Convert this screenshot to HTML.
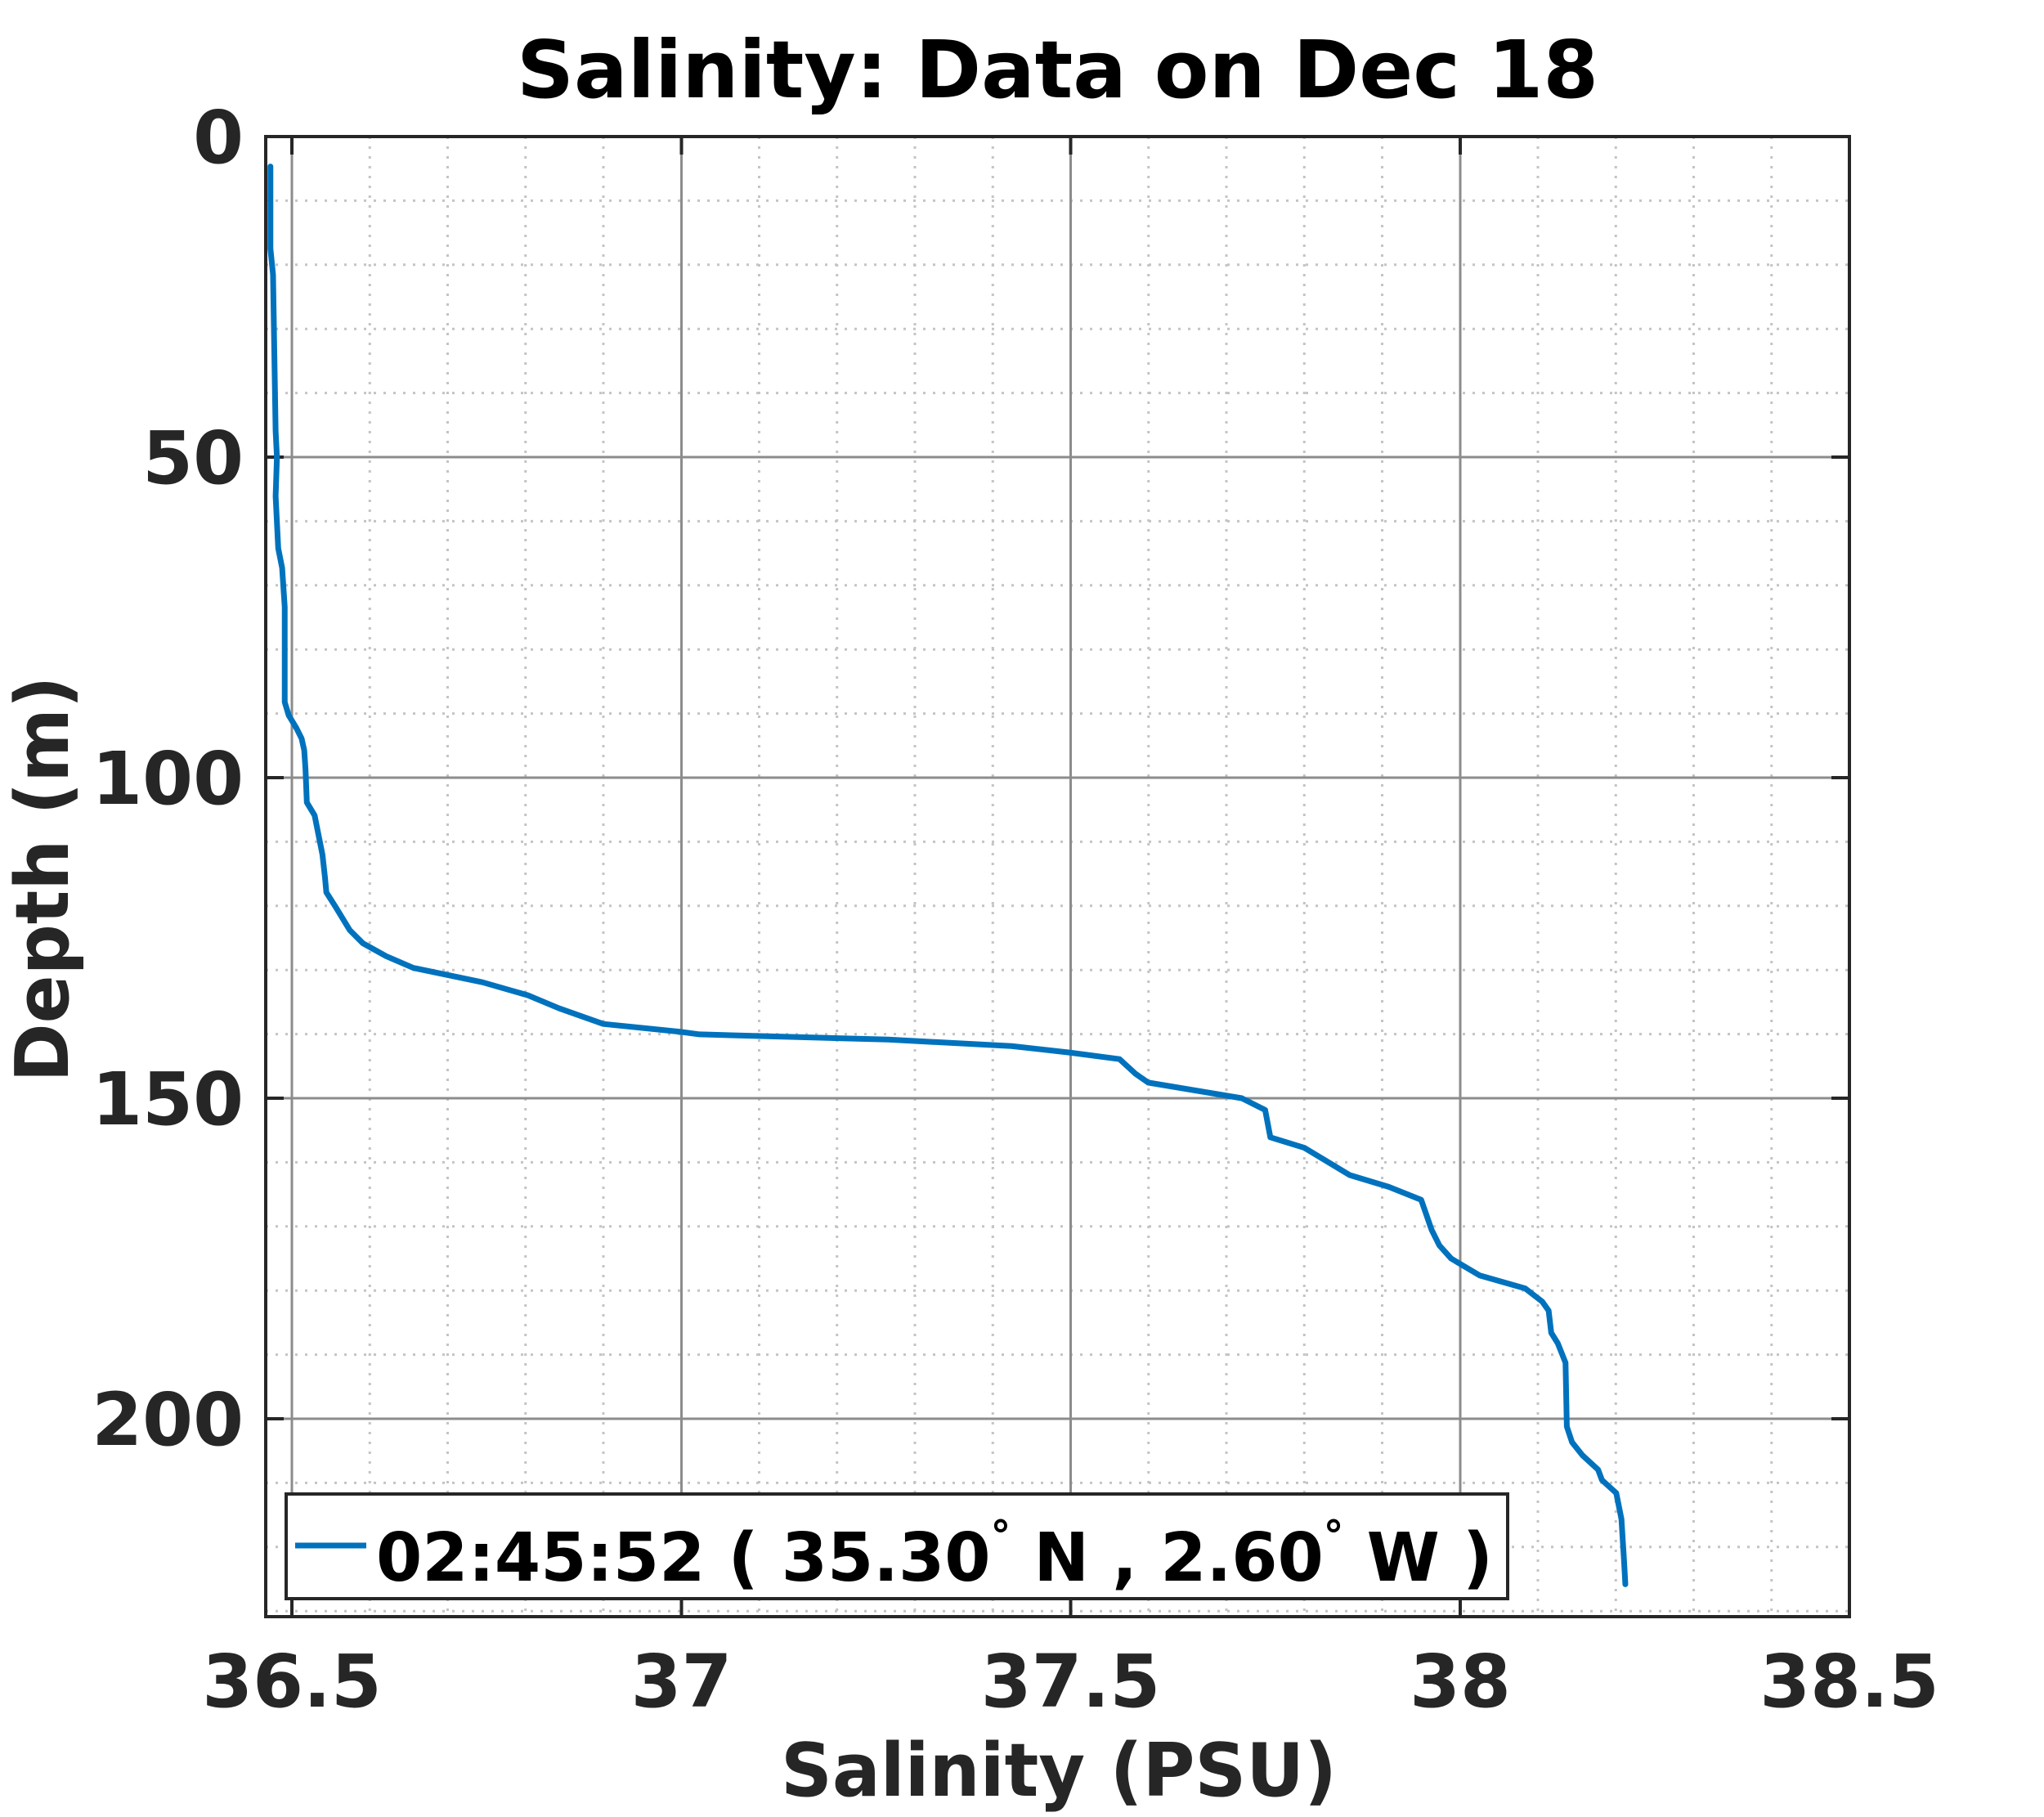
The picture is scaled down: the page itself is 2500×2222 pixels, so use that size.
<!DOCTYPE html>
<html><head><meta charset="utf-8"><style>
html,body{margin:0;padding:0;background:#fff;}
svg{display:block;}
text{font-family:"DejaVu Sans","Liberation Sans",sans-serif;font-weight:bold;}
</style></head><body>
<svg width="2500" height="2222" viewBox="0 0 2500 2222" xmlns="http://www.w3.org/2000/svg">
<rect width="2500" height="2222" fill="#fff"/>
<g stroke="#c4c4c4" stroke-width="3" stroke-dasharray="3,9">
<line x1="452.25" y1="167" x2="452.25" y2="1977"/><line x1="547.5" y1="167" x2="547.5" y2="1977"/><line x1="642.75" y1="167" x2="642.75" y2="1977"/><line x1="738" y1="167" x2="738" y2="1977"/>
<line x1="928.5" y1="167" x2="928.5" y2="1977"/><line x1="1023.75" y1="167" x2="1023.75" y2="1977"/><line x1="1119" y1="167" x2="1119" y2="1977"/><line x1="1214.25" y1="167" x2="1214.25" y2="1977"/>
<line x1="1404.75" y1="167" x2="1404.75" y2="1977"/><line x1="1500" y1="167" x2="1500" y2="1977"/><line x1="1595.25" y1="167" x2="1595.25" y2="1977"/><line x1="1690.5" y1="167" x2="1690.5" y2="1977"/>
<line x1="1881" y1="167" x2="1881" y2="1977"/><line x1="1976.25" y1="167" x2="1976.25" y2="1977"/><line x1="2071.5" y1="167" x2="2071.5" y2="1977"/><line x1="2166.75" y1="167" x2="2166.75" y2="1977"/>
</g>
<g stroke="#c4c4c4" stroke-width="3" stroke-dasharray="3,9">
<line x1="325" y1="245.4" x2="2262" y2="245.4"/><line x1="325" y1="323.8" x2="2262" y2="323.8"/><line x1="325" y1="402.2" x2="2262" y2="402.2"/><line x1="325" y1="480.6" x2="2262" y2="480.6"/>
<line x1="325" y1="637.4" x2="2262" y2="637.4"/><line x1="325" y1="715.8" x2="2262" y2="715.8"/><line x1="325" y1="794.2" x2="2262" y2="794.2"/><line x1="325" y1="872.6" x2="2262" y2="872.6"/>
<line x1="325" y1="1029.4" x2="2262" y2="1029.4"/><line x1="325" y1="1107.8" x2="2262" y2="1107.8"/><line x1="325" y1="1186.2" x2="2262" y2="1186.2"/><line x1="325" y1="1264.6" x2="2262" y2="1264.6"/>
<line x1="325" y1="1421.4" x2="2262" y2="1421.4"/><line x1="325" y1="1499.8" x2="2262" y2="1499.8"/><line x1="325" y1="1578.2" x2="2262" y2="1578.2"/><line x1="325" y1="1656.6" x2="2262" y2="1656.6"/>
<line x1="325" y1="1813.4" x2="2262" y2="1813.4"/><line x1="325" y1="1891.8" x2="2262" y2="1891.8"/><line x1="325" y1="1970.2" x2="2262" y2="1970.2"/>
</g>
<g stroke="#8c8c8c" stroke-width="3">
<line x1="357" y1="167" x2="357" y2="1977"/><line x1="833.5" y1="167" x2="833.5" y2="1977"/><line x1="1309.5" y1="167" x2="1309.5" y2="1977"/><line x1="1786" y1="167" x2="1786" y2="1977"/>
<line x1="325" y1="559" x2="2262" y2="559"/><line x1="325" y1="951" x2="2262" y2="951"/><line x1="325" y1="1343" x2="2262" y2="1343"/><line x1="325" y1="1735" x2="2262" y2="1735"/>
</g>
<g stroke="#262626" stroke-width="4">
<line x1="357" y1="167" x2="357" y2="189"/><line x1="833.5" y1="167" x2="833.5" y2="189"/><line x1="1309.5" y1="167" x2="1309.5" y2="189"/><line x1="1786" y1="167" x2="1786" y2="189"/>
<line x1="357" y1="1977" x2="357" y2="1955"/><line x1="833.5" y1="1977" x2="833.5" y2="1955"/><line x1="1309.5" y1="1977" x2="1309.5" y2="1955"/><line x1="1786" y1="1977" x2="1786" y2="1955"/>
<line x1="325" y1="559" x2="347" y2="559"/><line x1="325" y1="951" x2="347" y2="951"/><line x1="325" y1="1343" x2="347" y2="1343"/><line x1="325" y1="1735" x2="347" y2="1735"/>
<line x1="2262" y1="559" x2="2240" y2="559"/><line x1="2262" y1="951" x2="2240" y2="951"/><line x1="2262" y1="1343" x2="2240" y2="1343"/><line x1="2262" y1="1735" x2="2240" y2="1735"/>
</g>
<polyline fill="none" stroke="#0072BD" stroke-width="7" stroke-linejoin="round" stroke-linecap="round"
transform="matrix(1.5904 0 0 1.5935 4.72 1.28)" vector-effect="non-scaling-stroke"
points="205,127 205,190 207,210 208,270 209,330 210,350 209,380 211,420 214,435 216,465 216,538 219,548 225,558 229,566 231,575 232,590 233,615 239,625 241,635 245,655 247,673 248,684 255,695 266,713 276,723 294,733 315,742 368,753 403,763 427,773 461,785 520,791 535,793 680,797 775,802 820,807 858,812 870,823 880,830 952,842 970,851 974,872 1000,880 1035,901 1065,910 1090,920 1098,943 1104,955 1113,965 1135,978 1170,988 1183,998 1188,1005 1190,1022 1195,1030 1201,1045 1202,1094 1206,1106 1214,1116 1226,1127 1229,1135 1240,1145 1244,1165 1246,1197 1247,1215"/>
<rect x="325" y="167" width="1937" height="1810" fill="none" stroke="#262626" stroke-width="4"/>
<rect x="350" y="1827" width="1494" height="128" fill="#fff" stroke="#262626" stroke-width="4"/>
<line x1="361" y1="1890" x2="448" y2="1890" stroke="#0072BD" stroke-width="7"/>
<text x="460" y="1933" font-size="82" fill="#000" textLength="1366" lengthAdjust="spacingAndGlyphs">02:45:52 ( 35.30<tspan dy="-38" font-size="50">°</tspan><tspan dy="38"> N , 2.60</tspan><tspan dy="-38" font-size="50">°</tspan><tspan dy="38"> W )</tspan></text>
<g font-size="89" fill="#262626" text-anchor="middle">
<text x="357" y="2087">36.5</text><text x="833.5" y="2087">37</text><text x="1309.5" y="2087">37.5</text><text x="1786" y="2087">38</text><text x="2262" y="2087">38.5</text>
</g>
<g font-size="89" fill="#262626" text-anchor="end">
<text x="298" y="199">0</text><text x="298" y="591">50</text><text x="298" y="983">100</text><text x="298" y="1375">150</text><text x="298" y="1767">200</text>
</g>
<text x="632" y="119" font-size="97" fill="#000" textLength="1323" lengthAdjust="spacingAndGlyphs">Salinity: Data on Dec 18</text>
<text x="955" y="2196" font-size="90" fill="#262626" textLength="680" lengthAdjust="spacingAndGlyphs">Salinity (PSU)</text>
<text transform="translate(83,1075) rotate(-90)" x="0" y="0" font-size="90" fill="#262626" text-anchor="middle" textLength="497" lengthAdjust="spacingAndGlyphs">Depth (m)</text>
</svg>
</body></html>
